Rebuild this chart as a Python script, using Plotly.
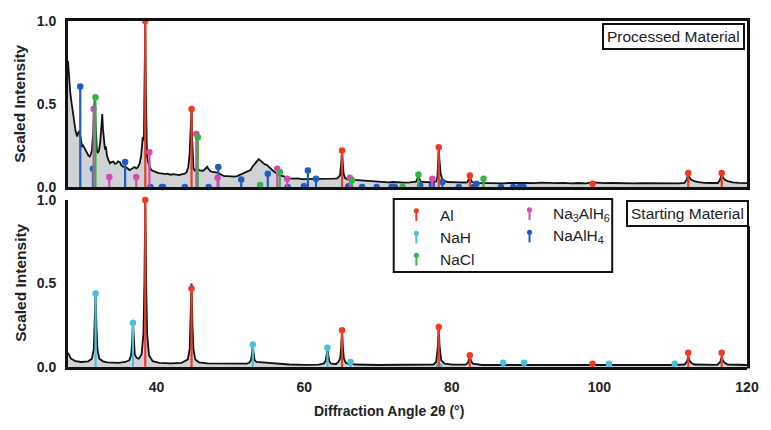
import plotly.graph_objects as go

# ---------------- data ----------------
x_ticks = [40, 60, 80, 100, 120]
x_tick_labels = ["40", "60", "80", "100", "120"]
y_ticks = [0, 0.5, 1.0]
y_tick_labels = ["0.0", "0.5", "1.0"]

phase_names = ["Al", "NaH", "NaCl", "Na<sub>3</sub>AlH<sub>6</sub>", "NaAlH<sub>4</sub>"]
phase_colors = ["#ef3b26", "#48c0de", "#35b34a", "#d24cae", "#1f5cbe"]

# Processed material measured pattern
proc_x = [28.0, 28.13, 28.3, 28.44, 28.6, 28.8, 29.03, 29.24, 29.41, 29.56, 29.71, 29.91, 30.06, 30.21, 30.41,
          30.57, 30.76, 30.94, 31.12, 31.25, 31.42, 31.54, 31.62, 31.72, 31.82, 31.92, 32.04, 32.2, 32.37, 32.52,
          32.64, 32.74, 32.9, 33.01, 33.13, 33.28, 33.47, 33.69, 33.88, 34.13, 34.33, 34.57, 34.79, 35.03, 35.24,
          35.47, 35.69, 35.91, 36.14, 36.36, 36.6, 36.8, 37.03, 37.25, 37.45, 37.7, 37.9, 38.05, 38.13, 38.28,
          38.4, 38.47, 38.54, 38.62, 38.7, 38.81, 39.03, 39.21, 39.36, 39.66, 39.96, 40.26, 40.71, 41.07, 41.47,
          41.87, 42.27, 42.68, 43.08, 43.48, 43.83, 44.08, 44.3, 44.48, 44.63, 44.74, 44.82, 44.9, 45.0, 45.16,
          45.39, 45.59, 45.79, 46.04, 46.3, 46.6, 46.85, 47.1, 47.4, 47.8, 48.27, 48.71, 49.16, 49.62, 50.02,
          50.52, 50.92, 51.42, 51.83, 52.23, 52.73, 53.03, 53.38, 53.63, 53.84, 54.04, 54.28, 54.64, 54.94, 55.39,
          55.85, 56.25, 56.65, 57.15, 57.55, 58.06, 58.56, 59.16, 59.66, 60.27, 60.77, 61.27, 61.88, 62.48, 62.98,
          63.49, 63.99, 64.49, 64.86, 65.01, 65.13, 65.25, 65.35, 65.52, 65.84, 66.3, 66.95, 67.51, 68.01, 68.62,
          69.17, 69.82, 70.53, 71.43, 72.03, 72.84, 73.64, 74.34, 75.15, 75.35, 75.48, 75.65, 75.85, 76.35, 76.96,
          77.56, 77.91, 78.05, 78.15, 78.23, 78.33, 78.49, 78.65, 78.86, 79.37, 79.87, 80.37, 80.98, 81.58, 82.08,
          82.29, 82.44, 82.59, 82.74, 83.29, 83.99, 84.7, 85.4, 86.1, 86.96, 87.71, 88.51, 89.32, 90.13, 91.13,
          92.14, 93.14, 94.15, 95.15, 96.16, 97.16, 98.17, 99.08, 99.78, 100.68, 101.69, 102.69, 103.7, 104.7, 105.71,
          106.72, 107.72, 108.73, 109.73, 110.74, 111.54, 111.84, 112.04, 112.19, 112.44, 112.84, 113.45, 114.25, 115.26, 116.06,
          116.36, 116.57, 116.72, 116.97, 117.37, 118.07, 118.87, 119.68, 120.0]
proc_y = [0.76, 0.645, 0.57, 0.52, 0.46, 0.40, 0.335, 0.305, 0.33, 0.335, 0.29, 0.245, 0.25, 0.235, 0.215,
          0.205, 0.19, 0.183, 0.20, 0.225, 0.33, 0.47, 0.525, 0.40, 0.25, 0.215, 0.205, 0.22, 0.27, 0.36,
          0.44, 0.35, 0.26, 0.225, 0.245, 0.19, 0.163, 0.143, 0.15, 0.153, 0.14, 0.142, 0.155, 0.15, 0.13,
          0.122, 0.125, 0.117, 0.108, 0.102, 0.108, 0.115, 0.12, 0.112, 0.118, 0.14, 0.185, 0.26, 0.30, 0.28,
          0.6, 1.0, 0.6, 0.26, 0.19, 0.155, 0.12, 0.108, 0.10, 0.095, 0.088, 0.084, 0.082, 0.078, 0.08,
          0.074, 0.078, 0.075, 0.072, 0.078, 0.08, 0.09, 0.12, 0.2, 0.36, 0.475, 0.3, 0.145, 0.115, 0.10,
          0.108, 0.112, 0.10, 0.10, 0.098, 0.108, 0.122, 0.105, 0.092, 0.09, 0.086, 0.075, 0.066, 0.065, 0.063,
          0.062, 0.066, 0.075, 0.082, 0.09, 0.102, 0.125, 0.143, 0.16, 0.168, 0.16, 0.15, 0.138, 0.133, 0.113,
          0.095, 0.082, 0.072, 0.066, 0.058, 0.052, 0.05, 0.052, 0.048, 0.048, 0.05, 0.046, 0.05, 0.048, 0.05,
          0.047, 0.05, 0.052, 0.07, 0.14, 0.22, 0.13, 0.08, 0.055, 0.046, 0.044, 0.042, 0.04, 0.036, 0.034,
          0.032, 0.033, 0.03, 0.028, 0.03, 0.027, 0.026, 0.028, 0.032, 0.05, 0.068, 0.045, 0.032, 0.03, 0.029,
          0.028, 0.035, 0.06, 0.15, 0.235, 0.16, 0.08, 0.055, 0.04, 0.03, 0.028, 0.026, 0.028, 0.027, 0.028,
          0.045, 0.065, 0.045, 0.03, 0.025, 0.024, 0.022, 0.024, 0.022, 0.022, 0.024, 0.026, 0.024, 0.025, 0.023,
          0.026, 0.024, 0.023, 0.025, 0.022, 0.024, 0.022, 0.028, 0.025, 0.023, 0.024, 0.022, 0.024, 0.022, 0.023,
          0.022, 0.024, 0.022, 0.023, 0.022, 0.025, 0.045, 0.08, 0.06, 0.045, 0.035, 0.03, 0.025, 0.024, 0.024,
          0.045, 0.075, 0.058, 0.045, 0.035, 0.028, 0.025, 0.024, 0.023]

# Starting material measured pattern
start_x = [28.0, 28.4, 29.0, 29.81, 30.74, 31.24, 31.49, 31.62, 31.74, 31.86, 31.99, 32.24, 32.74, 33.32, 34.83,
           35.75, 36.3, 36.55, 36.68, 36.8, 36.92, 37.05, 37.3, 37.6, 37.97, 38.22, 38.35, 38.47, 38.59, 38.72,
           38.97, 39.47, 40.37, 41.87, 43.38, 44.24, 44.49, 44.62, 44.74, 44.86, 44.99, 45.24, 45.74, 46.9, 48.91,
           50.92, 52.24, 52.54, 52.79, 52.92, 53.04, 53.16, 53.29, 53.54, 54.94, 56.95, 57.96, 59.97, 61.98, 62.65,
           62.9, 63.03, 63.15, 63.27, 63.4, 63.65, 64.33, 64.63, 64.88, 65.01, 65.13, 65.25, 65.38, 65.63, 66.03,
           66.13, 66.28, 66.43, 66.78, 70.02, 74.04, 77.53, 77.88, 78.11, 78.23, 78.35, 78.58, 79.03, 80.07, 81.88,
           82.19, 82.34, 82.44, 82.59, 82.84, 84.1, 87.12, 90.13, 95.15, 100.18, 105.2, 110.23, 111.54, 111.89, 112.04,
           112.19, 112.44, 112.84, 115.97, 116.37, 116.57, 116.72, 116.97, 117.37, 120.0]
start_y = [0.085, 0.05, 0.035, 0.03, 0.034, 0.05, 0.105, 0.235, 0.44, 0.235, 0.105, 0.05, 0.034, 0.028, 0.025,
           0.03, 0.04, 0.07, 0.14, 0.27, 0.14, 0.075, 0.055, 0.05, 0.075, 0.2, 0.5, 1.0, 0.5, 0.2,
           0.07, 0.035, 0.025, 0.022, 0.025, 0.045, 0.11, 0.26, 0.50, 0.26, 0.11, 0.045, 0.028, 0.022, 0.02,
           0.018, 0.02, 0.025, 0.04, 0.075, 0.135, 0.075, 0.04, 0.03, 0.025, 0.02, 0.015, 0.013, 0.014, 0.02,
           0.035, 0.07, 0.12, 0.07, 0.035, 0.02, 0.018, 0.03, 0.052, 0.115, 0.22, 0.115, 0.052, 0.025, 0.018,
           0.022, 0.032, 0.022, 0.015, 0.012, 0.012, 0.015, 0.03, 0.12, 0.24, 0.12, 0.04, 0.02, 0.014, 0.014,
           0.025, 0.045, 0.065, 0.04, 0.02, 0.012, 0.012, 0.012, 0.01, 0.01, 0.01, 0.012, 0.015, 0.035, 0.065,
           0.04, 0.025, 0.015, 0.013, 0.03, 0.06, 0.04, 0.025, 0.015, 0.012]

# Reference stick patterns
al_pos = [38.47, 44.74, 65.13, 78.23, 82.44, 99.08, 112.04, 116.57]
al_int = [1.0, 0.47, 0.22, 0.24, 0.07, 0.02, 0.085, 0.085]

nah_pos = [31.74, 36.8, 53.04, 63.15, 66.28, 78.3, 86.97, 89.8, 101.3, 110.2]
nah_int = [0.44, 0.265, 0.135, 0.115, 0.03, 0.005, 0.025, 0.025, 0.02, 0.02]

nacl_pos = [31.72, 45.59, 54.04, 56.7, 66.5, 73.34, 75.48, 84.3]
nacl_int = [0.54, 0.30, 0.012, 0.09, 0.04, 0.0, 0.075, 0.05]

na3alh6_pos = [31.47, 33.6, 37.25, 39.03, 45.39, 48.27, 56.35, 57.71, 66.2, 77.36]
na3alh6_int = [0.47, 0.06, 0.06, 0.21, 0.32, 0.055, 0.11, 0.05, 0.055, 0.05]

naalh4_pos = [29.66, 31.38, 35.74, 39.16, 40.72, 40.87, 43.83, 47.05, 48.36, 51.47, 55.07, 57.76, 59.97, 60.5,
              61.61, 65.97, 67.84, 69.82, 71.83, 72.28, 75.71, 77.31, 78.72, 80.95, 82.95, 83.34, 86.66, 88.32,
              89.17, 89.72]
naalh4_int = [0.605, 0.11, 0.15, 0.0, 0.0, 0.0, 0.0, 0.0, 0.12, 0.045, 0.08, 0.0, 0.005, 0.10,
              0.05, 0.005, 0.0, 0.0, 0.0, 0.0, 0.01, 0.01, 0.03, 0.0, 0.0, 0.02, 0.0, 0.0,
              0.0, 0.0]

panel_labels = ["Processed Material", "Starting Material"]
x_title = "Diffraction Angle 2θ (°)"
y_title = "Scaled Intensity"

# ---------------- figure ----------------
W, H = 771, 430
ML, MR, MT, MB = 68, 13, 21, 63
PW, PH = W - ML - MR, H - MT - MB
BOTTOM = H - MB


def px(xs):
    return (xs - ML) / PW


def py(ys):
    return (BOTTOM - ys) / PH


FONT = "Liberation Sans, Arial, sans-serif"
GRAY_FILL = "#cfd3d5"

fig = go.Figure()


def add_curve(x, y, xa, ya):
    fig.add_trace(go.Scatter(x=x, y=y, mode="lines", fill="tozeroy", fillcolor=GRAY_FILL,
                             line=dict(color="#111111", width=1.8), xaxis=xa, yaxis=ya,
                             showlegend=False, hoverinfo="skip"))


def add_sticks(pos, val, color, xa, ya):
    xs, ys = [], []
    for p, v in zip(pos, val):
        xs += [p, p, None]
        ys += [0, v, None]
    fig.add_trace(go.Scatter(x=xs, y=ys, mode="lines", line=dict(color=color, width=2.2),
                             xaxis=xa, yaxis=ya, showlegend=False, hoverinfo="skip", cliponaxis=False))
    fig.add_trace(go.Scatter(x=pos, y=val, mode="markers", marker=dict(color=color, size=6.5),
                             xaxis=xa, yaxis=ya, showlegend=False, cliponaxis=False))


# top panel: processed
add_curve(proc_x, proc_y, "x", "y")
add_sticks(naalh4_pos, naalh4_int, phase_colors[4], "x", "y")
add_sticks(na3alh6_pos, na3alh6_int, phase_colors[3], "x", "y")
add_sticks(nacl_pos, nacl_int, phase_colors[2], "x", "y")
add_sticks(al_pos, al_int, phase_colors[0], "x", "y")

# bottom panel: starting
add_curve(start_x, start_y, "x2", "y2")
add_sticks(nah_pos, nah_int, phase_colors[1], "x2", "y2")
add_sticks(al_pos, al_int, phase_colors[0], "x2", "y2")

tickfont = dict(family=FONT, size=14, color="#222222", weight="bold")
xr = [28.0, 120]
top_bottom = py(187)
bot_top = py(200)

fig.update_layout(
    width=W, height=H, margin=dict(l=ML, r=MR, t=MT, b=MB),
    plot_bgcolor="white", paper_bgcolor="white",
    font=dict(family=FONT, color="#222222"),
    showlegend=False,
    xaxis=dict(domain=[0, 1], anchor="y", range=xr, showticklabels=False, ticks="",
               showgrid=False, zeroline=False, showline=True, linecolor="#111111", linewidth=3,
               mirror=True),
    yaxis=dict(domain=[top_bottom, 1], anchor="x", range=[0, 1.0], tickvals=y_ticks,
               ticktext=y_tick_labels, tickfont=tickfont, ticks="", ticklabelstandoff=6,
               showgrid=False, zeroline=False, showline=True, linecolor="#111111", linewidth=3,
               mirror=True),
    xaxis2=dict(domain=[0, 1], anchor="y2", range=xr, tickvals=x_ticks, ticktext=x_tick_labels,
                tickfont=tickfont, ticks="", ticklabelstandoff=5, showgrid=False, zeroline=False,
                showline=True, linecolor="#111111", linewidth=3),
    yaxis2=dict(domain=[0, bot_top], anchor="x2", range=[0, 1.0], tickvals=y_ticks,
                ticktext=y_tick_labels, tickfont=tickfont, ticks="", ticklabelstandoff=6,
                showgrid=False, zeroline=False, showline=True, linecolor="#111111", linewidth=3),
)

shapes = []
annotations = []

# right border of bottom panel below its label box
shapes.append(dict(type="line", xref="paper", yref="paper", x0=px(759.5), x1=px(759.5),
                   y0=py(226), y1=py(368.5), line=dict(color="#111111", width=3)))

# panel labels
annotations.append(dict(xref="paper", yref="paper", x=px(756), y=py(22.5), xanchor="right",
                        yanchor="top", text=panel_labels[0], showarrow=False,
                        font=dict(family=FONT, size=15.5, color="#222222"),
                        bordercolor="#111111", borderwidth=2, borderpad=3, bgcolor="white"))
annotations.append(dict(xref="paper", yref="paper", x=px(760), y=py(199.5), xanchor="right",
                        yanchor="top", text=panel_labels[1], showarrow=False,
                        font=dict(family=FONT, size=15.5, color="#222222"),
                        bordercolor="#111111", borderwidth=2, borderpad=3, bgcolor="white"))

# axis titles
annotations.append(dict(xref="paper", yref="paper", x=px(19), y=py(104), text=y_title,
                        textangle=-90, showarrow=False, xanchor="center", yanchor="middle",
                        font=dict(family=FONT, size=15.5, color="#222222", weight="bold")))
annotations.append(dict(xref="paper", yref="paper", x=px(19), y=py(283), text=y_title,
                        textangle=-90, showarrow=False, xanchor="center", yanchor="middle",
                        font=dict(family=FONT, size=15.5, color="#222222", weight="bold")))
annotations.append(dict(xref="paper", yref="paper", x=px(394), y=py(411), text=x_title,
                        showarrow=False, xanchor="center", yanchor="middle",
                        font=dict(family=FONT, size=14, color="#222222", weight="bold")))

# custom legend (lollipop glyphs)
shapes.append(dict(type="rect", xref="paper", yref="paper", x0=px(399), x1=px(621),
                   y0=py(272), y1=py(199), line=dict(color="#111111", width=2),
                   fillcolor="white", layer="above"))
legend_slots = [(422, 215), (422, 237.5), (422, 259.5), (537, 214), (537, 236.5)]
for name, color, (gx, gy) in zip(phase_names, phase_colors, legend_slots):
    shapes.append(dict(type="line", xref="paper", yref="paper", x0=px(gx), x1=px(gx),
                       y0=py(gy + 6), y1=py(gy - 3), line=dict(color=color, width=2), layer="above"))
    shapes.append(dict(type="circle", xref="paper", yref="paper", x0=px(gx - 2.6), x1=px(gx + 2.6),
                       y0=py(gy - 1.6), y1=py(gy - 6.8), line=dict(color=color, width=0),
                       fillcolor=color, layer="above"))
    annotations.append(dict(xref="paper", yref="paper", x=px(gx + 22), y=py(gy), text=name,
                            showarrow=False, xanchor="left", yanchor="middle",
                            font=dict(family=FONT, size=15.5, color="#222222")))

fig.update_layout(shapes=shapes, annotations=annotations)

# remove the default page margin and scrollbars so the 771x430 figure fills the window exactly
fig.write_html(
    "out.html",
    config={"displayModeBar": False},
    post_script=(
        "document.documentElement.style.margin='0px';"
        "document.documentElement.style.overflow='hidden';"
        "document.body.style.margin='0px';"
        "document.body.style.overflow='hidden';"
    ),
)
